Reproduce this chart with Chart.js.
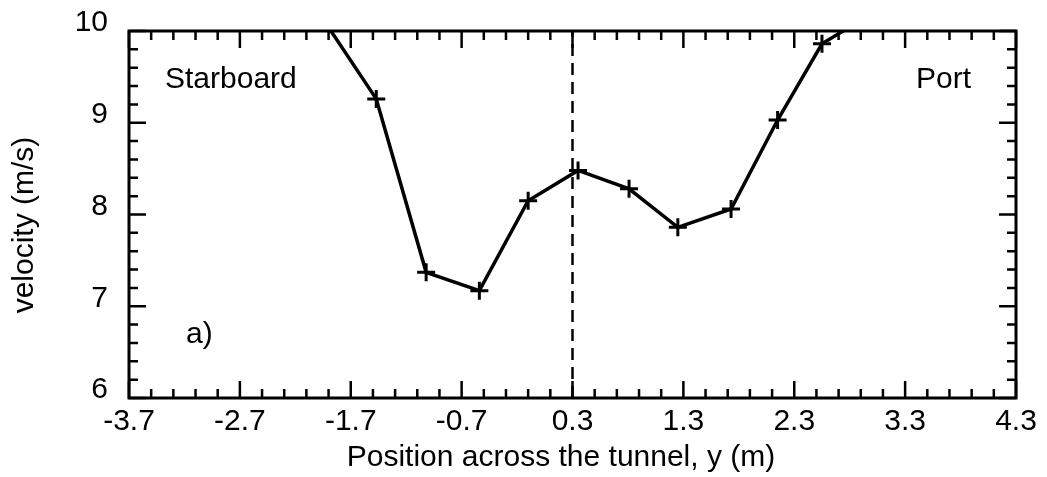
<!DOCTYPE html>
<html>
<head>
<meta charset="utf-8">
<title>Velocity across the tunnel</title>
<script src="https://cdn.jsdelivr.net/npm/chart.js@4.4.0/dist/chart.umd.min.js"></script>
<style>
    body { margin: 0; background: #fff; }
    canvas { display: block; }
</style>
</head>
<body>
<canvas id="velChart" width="1047" height="477"></canvas>
<script>
// Measured velocity profile across the tunnel
const positions = [-1.95, -1.47, -1.02, -0.54, -0.10, 0.35, 0.81, 1.25, 1.73, 2.15, 2.55, 3.00];
const velocities = [10.13, 9.26, 7.37, 7.17, 8.15, 8.48, 8.28, 7.86, 8.06, 9.03, 9.86, 10.19];

// Tunnel centreline (dashed)
const centreX = 0.3;

// Axis ticks
const xTicks = [-3.7, -2.7, -1.7, -0.7, 0.3, 1.3, 2.3, 3.3, 4.3];
const xTickLabels = ['-3.7', '-2.7', '-1.7', '-0.7', '0.3', '1.3', '2.3', '3.3', '4.3'];
const yTicks = [6, 7, 8, 9, 10];
const yTickLabels = ['6', '7', '8', '9', '10'];

const FONT = "'Liberation Sans', Arial, Helvetica, sans-serif";

// Frame + inward tick marks on all four sides, plus the text labels
const framePlugin = {
    id: 'frame',
    afterDatasetsDraw(chart) {
        const ctx = chart.ctx;
        const area = chart.chartArea;
        const xs = chart.scales.x;
        const ys = chart.scales.y;

        ctx.save();
        ctx.strokeStyle = '#000';
        ctx.lineWidth = 2.5;
        ctx.beginPath();
        // x ticks every 0.2, long ones on the labelled values
        for (let i = 0; i <= 40; i++) {
            const v = xs.min + i * 0.2;
            const len = (i % 5 === 0) ? 17 : 9;
            const px = xs.getPixelForValue(v);
            ctx.moveTo(px, area.bottom);
            ctx.lineTo(px, area.bottom - len);
            ctx.moveTo(px, area.top);
            ctx.lineTo(px, area.top + len);
        }
        // y ticks every 0.2
        for (let i = 0; i <= 20; i++) {
            const v = ys.min + i * 0.2;
            const len = (i % 5 === 0) ? 17 : 9;
            const py = ys.getPixelForValue(v);
            ctx.moveTo(area.left, py);
            ctx.lineTo(area.left + len, py);
            ctx.moveTo(area.right, py);
            ctx.lineTo(area.right - len, py);
        }
        ctx.stroke();

        ctx.lineWidth = 3;
        ctx.strokeRect(area.left, area.top, area.right - area.left, area.bottom - area.top);

        // annotations
        ctx.fillStyle = '#000';
        ctx.font = '30px ' + FONT;
        ctx.textBaseline = 'alphabetic';
        ctx.textAlign = 'left';
        ctx.fillText('Starboard', 165, 88);
        ctx.fillText('Port', 916, 88);
        ctx.fillText('a)', 186, 343);

        // axis titles
        ctx.textAlign = 'center';
        ctx.fillText('Position across the tunnel, y (m)', 561, 466);
        ctx.translate(33, 225);
        ctx.rotate(-Math.PI / 2);
        ctx.fillText('velocity (m/s)', 0, 0);
        ctx.restore();
    }
};

const points = positions.map((x, i) => ({ x: x, y: velocities[i] }));

new Chart(document.getElementById('velChart'), {
    type: 'scatter',
    data: {
        datasets: [
            {
                data: points,
                showLine: true,
                borderColor: '#000',
                borderWidth: 3.5,
                pointStyle: 'cross',
                pointRadius: 9,
                pointBorderWidth: 3,
                pointBorderColor: '#000',
                clip: 0
            },
            {
                data: [{ x: centreX, y: 6 }, { x: centreX, y: 10 }],
                showLine: true,
                borderColor: '#000',
                borderWidth: 2.5,
                borderDash: [12, 7],
                pointRadius: 0,
                clip: 0
            }
        ]
    },
    options: {
        responsive: false,
        devicePixelRatio: 1,
        animation: false,
        layout: { padding: { top: 31, right: 31, left: 0, bottom: 0 } },
        plugins: {
            legend: { display: false },
            tooltip: { enabled: false }
        },
        scales: {
            x: {
                type: 'linear',
                min: -3.7,
                max: 4.3,
                grid: { display: false, drawTicks: false },
                border: { display: false },
                afterBuildTicks: (scale) => { scale.ticks = xTicks.map(v => ({ value: v })); },
                afterFit: (scale) => {
                    scale.height = 79;
                    scale.paddingLeft = 0;
                    scale.paddingRight = 0;
                },
                ticks: {
                    padding: 6,
                    color: '#000',
                    font: { family: FONT, size: 30 },
                    maxRotation: 0,
                    autoSkip: false,
                    callback: (v, i) => xTickLabels[i]
                }
            },
            y: {
                type: 'linear',
                min: 6,
                max: 10,
                grid: { display: false, drawTicks: false },
                border: { display: false },
                afterBuildTicks: (scale) => { scale.ticks = yTicks.map(v => ({ value: v })); },
                afterFit: (scale) => {
                    scale.width = 129;
                    scale.paddingTop = 0;
                    scale.paddingBottom = 0;
                },
                ticks: {
                    padding: 21,
                    labelOffset: -8,
                    color: '#000',
                    font: { family: FONT, size: 30 },
                    autoSkip: false,
                    callback: (v, i) => yTickLabels[i]
                }
            }
        }
    },
    plugins: [framePlugin]
});
</script>
</body>
</html>
